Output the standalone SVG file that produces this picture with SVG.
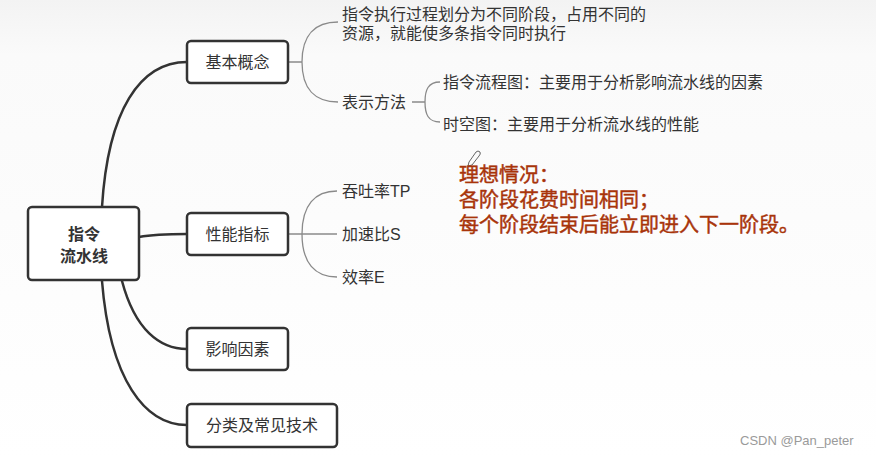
<svg xmlns="http://www.w3.org/2000/svg" width="876" height="459" viewBox="0 0 876 459">
<defs>
<linearGradient id="bg" x1="0" y1="0" x2="0" y2="1">
<stop offset="0" stop-color="#f3f3f3"/>
<stop offset="0.12" stop-color="#fafafa"/>
<stop offset="1" stop-color="#ffffff"/>
</linearGradient>
<style>
.box{fill:#ffffff;stroke:#333333;stroke-width:2.5}
.t{font-family:"Liberation Sans","Noto Sans CJK SC",sans-serif;font-size:16px;fill:#333333}
.bt{font-family:"Liberation Sans","Noto Sans CJK SC",sans-serif;font-size:16px;fill:#333333;text-anchor:middle;dominant-baseline:central}
.main{fill:none;stroke:#333333;stroke-width:2.5;stroke-linecap:round}
.sub{fill:none;stroke:#8a8a8a;stroke-width:1.3}
.red{font-family:"Liberation Serif","Noto Sans CJK SC",serif;font-size:20px;fill:#a8340a;stroke:#a8340a;stroke-width:0.45}
</style>
</defs>
<rect width="876" height="459" fill="url(#bg)"/>

<g id="connectors">
<path class="main" d="M102,207 C108,110 140,62 187,62"/>
<path class="main" d="M139,237 C155,234 168,234 187,234"/>
<path class="main" d="M122,281 C135,330 160,349 187,349"/>
<path class="main" d="M102,281 C110,380 145,425 187,425"/>
<path class="sub" d="M288,62 L302,62 M302,62 C302,35 315,22 338,22 M302,62 C302,89 315,102 338,102"/>
<path class="sub" d="M412,102 L425,102 M425,102 C425,90 428,82 440,82 M425,102 C425,114 428,122 440,122"/>
<path class="sub" d="M288,234 L337,234 M302,234 C302,205 315,191 337,191 M302,234 C302,263 315,277 337,277"/>
</g>

<g id="root">
<rect class="box" x="28" y="207" width="111" height="73" rx="4"/>
<text class="bt" x="84" y="234" font-weight="bold">指令</text>
<text class="bt" x="84" y="256" font-weight="bold">流水线</text>
</g>
<g id="n-basic">
<rect class="box" x="187" y="41" width="101" height="42" rx="4"/>
<text class="bt" x="237.5" y="62">基本概念</text>
</g>
<g id="n-perf">
<rect class="box" x="187" y="213" width="101" height="42" rx="4"/>
<text class="bt" x="237.5" y="234">性能指标</text>
</g>
<g id="n-factor">
<rect class="box" x="187" y="328" width="101" height="42" rx="4"/>
<text class="bt" x="237.5" y="349">影响因素</text>
</g>
<g id="n-class">
<rect class="box" x="187" y="404" width="150" height="43" rx="4"/>
<text class="bt" x="262" y="425.5">分类及常见技术</text>
</g>

<g id="n-concept">
<text class="t"><tspan x="342" y="19.5">指令执行过程划分为不同阶段，占用不同的</tspan><tspan x="342" y="38.5">资源，就能使多条指令同时执行</tspan></text>
</g>
<g id="n-repr">
<text class="t" x="342" y="108">表示方法</text>
</g>
<g id="n-flow">
<text class="t" x="443" y="88">指令流程图：主要用于分析影响流水线的因素</text>
</g>
<g id="n-st">
<text class="t" x="443" y="130">时空图：主要用于分析流水线的性能</text>
</g>
<g id="n-tp">
<text class="t" x="342" y="197">吞吐率TP</text>
</g>
<g id="n-s">
<text class="t" x="342" y="240">加速比S</text>
</g>
<g id="n-e">
<text class="t" x="342" y="283">效率E</text>
</g>

<g id="note">
<path d="M469,162 L476,152 Q478,150 480,152 Q481,154 479,156 L472,165 L468,166 Z" fill="none" stroke="#555" stroke-width="0.9"/>
<text class="red"><tspan x="459" y="182">理想情况：</tspan><tspan x="459" y="207">各阶段花费时间相同；</tspan><tspan x="459" y="232">每个阶段结束后能立即进入下一阶段。</tspan></text>
</g>

<text x="740" y="445" font-family="'Liberation Sans',sans-serif" font-size="13" fill="#9a9a9a">CSDN @Pan_peter</text>
</svg>
